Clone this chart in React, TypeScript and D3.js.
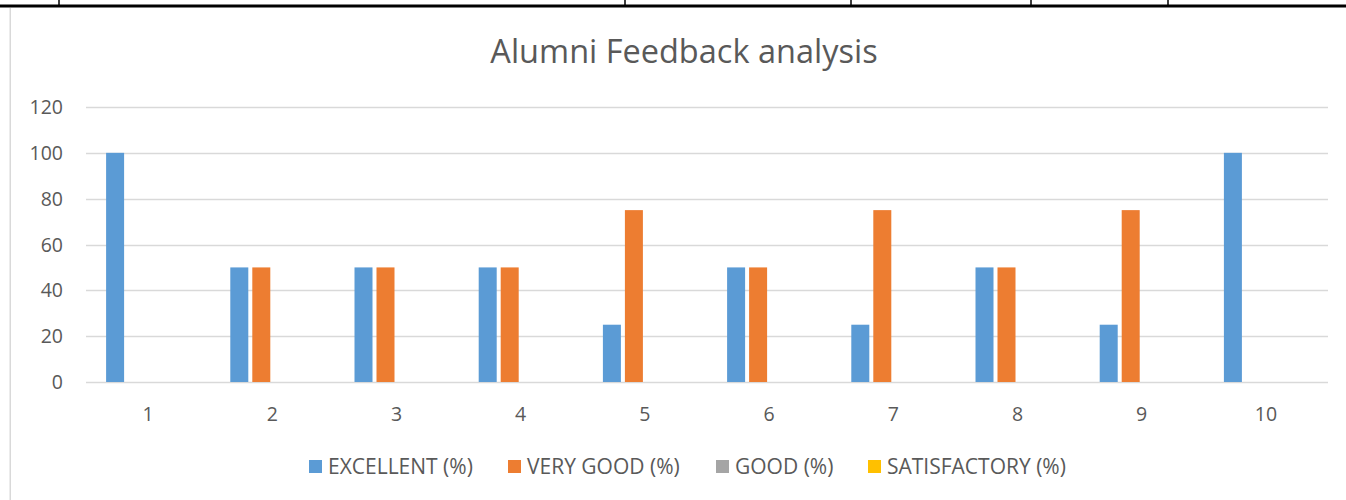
import React from "react";
import * as d3 from "d3";

const categories = ["1", "2", "3", "4", "5", "6", "7", "8", "9", "10"];
const seriesNames = ["EXCELLENT (%)", "VERY GOOD (%)", "GOOD (%)", "SATISFACTORY (%)"];
const excellent = [100, 50, 50, 50, 25, 50, 25, 50, 25, 100];
const veryGood = [0, 50, 50, 50, 75, 50, 75, 50, 75, 0];
const good = [0, 0, 0, 0, 0, 0, 0, 0, 0, 0];
const satisfactory = [0, 0, 0, 0, 0, 0, 0, 0, 0, 0];
const yTicks = [0, 20, 40, 60, 80, 100, 120];
const colors = ["#5B9BD5", "#ED7D31", "#A5A5A5", "#FFC000"];
const tableCols = [59, 625, 851, 1031, 1168];

const W = 1346;
const H = 500;
const FONT = "'Open Sans', 'Noto Sans', sans-serif";

export default function App() {
  const values = [excellent, veryGood, good, satisfactory];
  const x = d3.scaleBand<string>().domain(categories).range([86, 1328]).padding(0);
  const groupW = 84;
  const inner = d3
    .scaleBand<string>()
    .domain(seriesNames)
    .range([0, groupW])
    .paddingInner(4 / 22)
    .paddingOuter(0);
  const y = d3.scaleLinear().domain([0, 120]).range([382, 107]);

  const legendItems = [
    { x: 309, tx: 328 },
    { x: 508, tx: 527 },
    { x: 716, tx: 735 },
    { x: 868, tx: 887 },
  ];

  return (
    <svg
      width={W}
      height={H}
      style={{ position: "absolute", left: 0, top: 0, background: "#fff" }}
      fontFamily={FONT}
    >
      <rect x={0} y={0} width={W} height={H} fill="#fff" />
      {/* table borders above */}
      <rect x={0} y={4.5} width={W} height={3} fill="#000" />
      {tableCols.map((c, i) => (
        <rect key={i} x={c - 0.75} y={0} width={1.5} height={6} fill="#000" />
      ))}
      {/* chart frame left */}
      <rect x={9.5} y={8} width={1.5} height={H - 8} fill="#d9d9d9" />

      {/* title */}
      <text x={684} y={63} textAnchor="middle" fontSize={32.5} fill="#595959">
        Alumni Feedback analysis
      </text>

      {/* gridlines */}
      {yTicks.map((t) => (
        <line
          key={t}
          x1={86}
          x2={1328}
          y1={Math.round(y(t)) + 0.5}
          y2={Math.round(y(t)) + 0.5}
          stroke="#d9d9d9"
          strokeWidth={1.3}
        />
      ))}
      {yTicks.map((t) => (
        <text
          key={"l" + t}
          x={63}
          y={y(t) + 7}
          textAnchor="end"
          fontSize={19.5}
          fill="#595959"
        >
          {t}
        </text>
      ))}

      {/* bars */}
      {categories.map((c, ci) => {
        const gx = (x(c) as number) + x.bandwidth() / 2 - groupW / 2;
        return seriesNames.map((s, si) => {
          const v = values[si][ci];
          if (v <= 0) return null;
          return (
            <rect
              key={c + s}
              x={gx + (inner(s) as number)}
              y={y(v)}
              width={inner.bandwidth()}
              height={y(0) - y(v)}
              fill={colors[si]}
            />
          );
        });
      })}

      {/* x labels */}
      {categories.map((c) => (
        <text
          key={"x" + c}
          x={(x(c) as number) + x.bandwidth() / 2}
          y={421}
          textAnchor="middle"
          fontSize={19.5}
          fill="#595959"
        >
          {c}
        </text>
      ))}

      {/* legend */}
      {seriesNames.map((s, i) => (
        <g key={"lg" + s}>
          <rect x={legendItems[i].x} y={460} width={13} height={13} fill={colors[i]} />
          <text x={legendItems[i].tx} y={474} fontSize={21} fill="#595959">
            {s}
          </text>
        </g>
      ))}
    </svg>
  );
}
